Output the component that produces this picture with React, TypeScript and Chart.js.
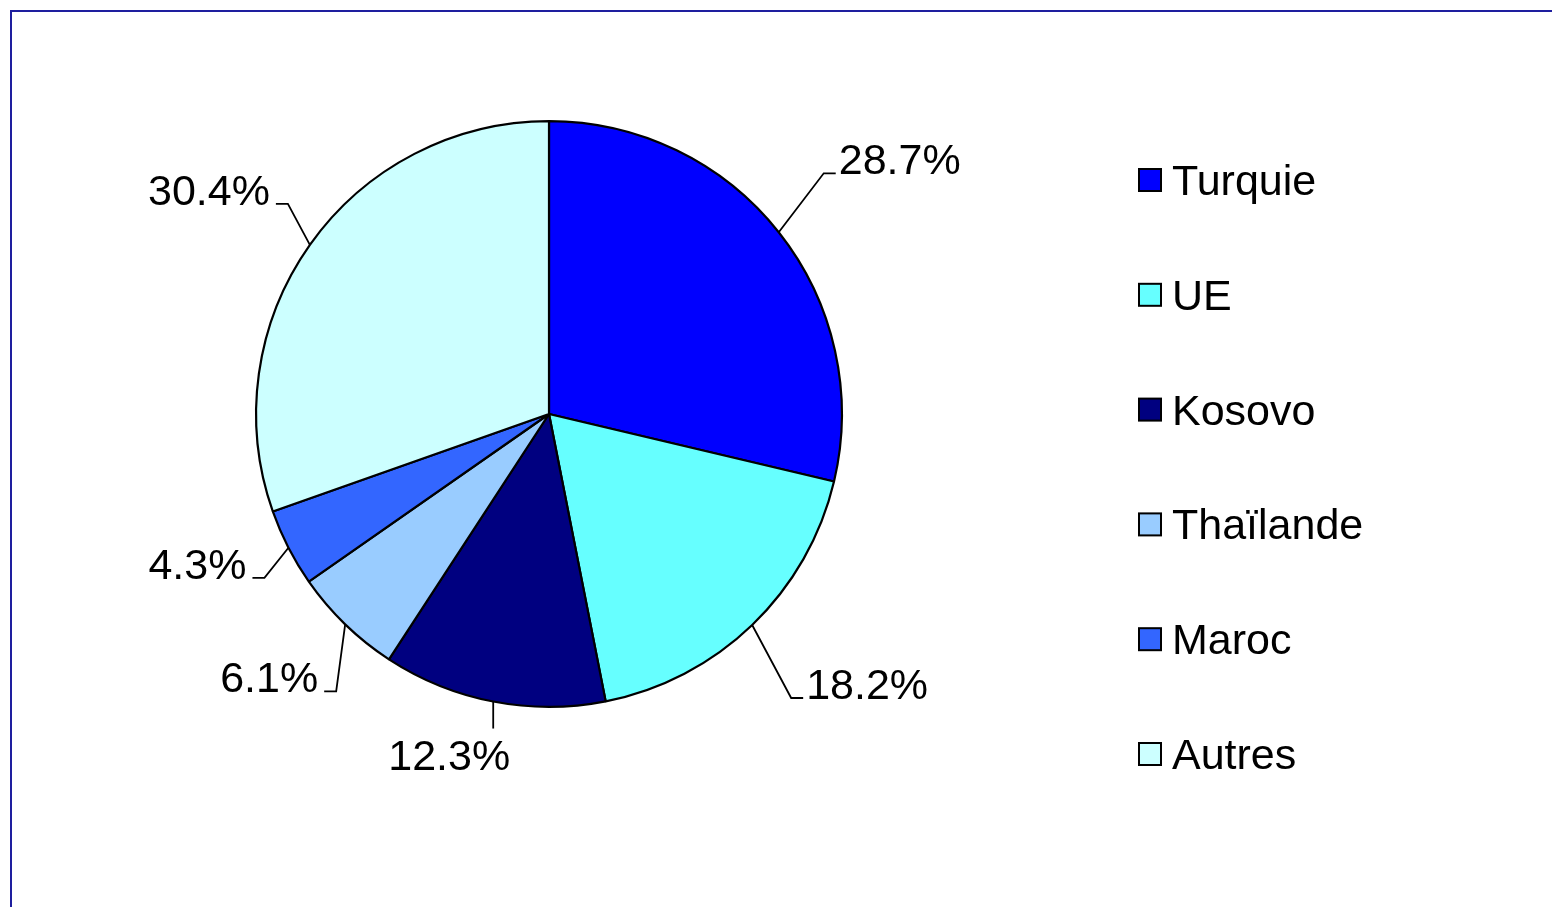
import React, { useEffect, useRef } from "react";
import { Chart, registerables } from "chart.js";

Chart.register(...registerables);

const categories = ["Turquie", "UE", "Kosovo", "Thaïlande", "Maroc", "Autres"];
const shares = [28.7, 18.2, 12.3, 6.1, 4.3, 30.4];
const sliceColors = ["#0000FF", "#66FFFF", "#000080", "#99CCFF", "#3366FF", "#CCFFFF"];

// leader-line elbow offsets from the slice edge (layout only)
const leaderLayout = [
  { dx: 45, dy: -59, dir: 1, tx: 0 },
  { dx: 39, dy: 73, dir: 1, tx: 0 },
  { dx: 0, dy: 27, dir: 0, tx: -44 },
  { dx: -9, dy: 67, dir: -1, tx: 0 },
  { dx: -24, dy: 30, dir: -1, tx: 0 },
  { dx: -22, dy: -41, dir: -1, tx: 0 },
];

const FONT = "43px 'Liberation Sans', Arial, sans-serif";

const labelPlugin = {
  id: "labelsAndLegend",
  afterDraw(chart: any) {
    const ctx = chart.ctx;
    const meta = chart.getDatasetMeta(0);
    ctx.save();
    ctx.font = FONT;
    ctx.fillStyle = "#000";
    ctx.strokeStyle = "#000";
    ctx.lineWidth = 1.8;
    meta.data.forEach((arc: any, i: number) => {
      const mid = (arc.startAngle + arc.endAngle) / 2;
      const R = arc.outerRadius;
      const ax = arc.x + Math.cos(mid) * R;
      const ay = arc.y + Math.sin(mid) * R;
      const L = leaderLayout[i];
      const ex = ax + L.dx;
      const ey = ay + L.dy;
      const text = shares[i].toFixed(1) + "%";
      ctx.beginPath();
      ctx.moveTo(ax, ay);
      ctx.lineTo(ex, ey);
      if (L.dir !== 0) {
        ctx.lineTo(ex + 12 * L.dir, ey);
      }
      ctx.stroke();
      ctx.textBaseline = "alphabetic";
      if (L.dir === 1) {
        ctx.textAlign = "left";
        ctx.fillText(text, ex + 15, ey + 1);
      } else if (L.dir === -1) {
        ctx.textAlign = "right";
        ctx.fillText(text, ex - 18, ey + 1);
      } else {
        ctx.textAlign = "center";
        ctx.fillText(text, ex + L.tx, ey + 41);
      }
    });

    // legend
    const lx = 1139;
    const ly0 = 180;
    const step = 114.8;
    categories.forEach((c, i) => {
      const cy = ly0 + i * step;
      ctx.fillStyle = sliceColors[i];
      ctx.fillRect(lx, cy - 11, 22, 22);
      ctx.lineWidth = 2;
      ctx.strokeStyle = "#000";
      ctx.strokeRect(lx, cy - 11, 22, 22);
      ctx.fillStyle = "#000";
      ctx.textAlign = "left";
      ctx.textBaseline = "alphabetic";
      ctx.fillText(c, 1172, cy + 15);
    });
    ctx.restore();
  },
};

export default function App() {
  const ref = useRef<HTMLCanvasElement>(null);
  useEffect(() => {
    if (!ref.current) return;
    const chart = new Chart(ref.current, {
      type: "pie",
      data: {
        labels: categories,
        datasets: [
          {
            data: shares,
            backgroundColor: sliceColors,
            borderColor: "#000",
            borderWidth: 2.2,
          },
        ],
      },
      options: {
        responsive: false,
        animation: false,
        layout: { padding: { left: 255, right: 709, top: 120, bottom: 199 } },
        plugins: { legend: { display: false }, tooltip: { enabled: false } },
      },
      plugins: [labelPlugin],
    });
    return () => chart.destroy();
  }, []);
  return (
    <div style={{ position: "fixed", left: 0, top: 0, width: 1552, height: 907, overflow: "hidden", background: "#fff" }}>
      <div
        style={{
          position: "absolute",
          left: 10,
          top: 10,
          width: 1700,
          height: 1000,
          borderTop: "2px solid #1e1e9e",
          borderLeft: "2px solid #1e1e9e",
        }}
      />
      <canvas ref={ref} width={1552} height={907} style={{ position: "absolute", left: 0, top: 0 }} />
    </div>
  );
}
